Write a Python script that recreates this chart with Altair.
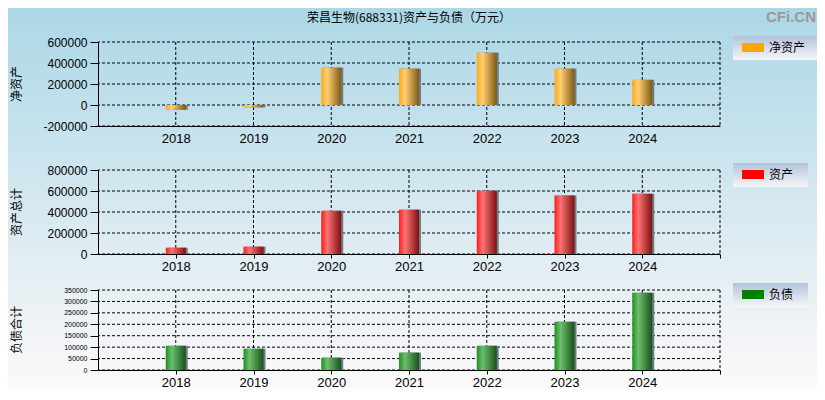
import altair as alt
import pandas as pd

# ---- data (万元) ----
years = [2018, 2019, 2020, 2021, 2022, 2023, 2024]
net_assets = [-45000, -22000, 356000, 346000, 498000, 346000, 240000]
total_assets = [60000, 70000, 413000, 422000, 603000, 556000, 575000]
total_liabilities = [106000, 93000, 54000, 76000, 106000, 211000, 338000]

grid_years = [2018, 2019, 2020, 2021, 2022, 2023, 2024, 2025]
x_domain = [2017, 2025]

ticks_net = [-200000, 0, 200000, 400000, 600000]
ticks_assets = [0, 200000, 400000, 600000, 800000]
ticks_liab = [0, 50000, 100000, 150000, 200000, 250000, 300000, 350000]

title_text = "荣昌生物(688331)资产与负债（万元）"

FONT = "Liberation Sans, Arial, sans-serif"
CJK = "Microsoft YaHei, Noto Sans CJK SC, sans-serif"

one = pd.DataFrame({"k": [0]})


def hgrad(c0, c1, c2):
    return alt.LinearGradient(
        gradient="linear", x1=0, x2=1, y1=0, y2=0,
        stops=[alt.GradientStop(color=c0, offset=0),
               alt.GradientStop(color=c1, offset=0.3),
               alt.GradientStop(color=c2, offset=1)])


def vgrad(c0, c1):
    return alt.LinearGradient(
        gradient="linear", x1=0, x2=0, y1=0, y2=1,
        stops=[alt.GradientStop(color=c0, offset=0),
               alt.GradientStop(color=c1, offset=1)])


def panel(values, ydomain, yticks, h, top, ytitle, legend_label, swatch,
          bar_fill, label_size, legend_y, legend_x2, xtick, extra_layers=()):
    df = pd.DataFrame({"year": years, "value": values})
    xs = alt.Scale(domain=x_domain, nice=False, zero=False, padding=0)
    ys = alt.Scale(domain=ydomain, range=[h, top], nice=False, zero=False, padding=0)

    x_axis = alt.Axis(values=grid_years, grid=False, title=None, zindex=1,
                      labelExpr="datum.value < 2025 ? '' + datum.value : ''",
                      labelFont=FONT, labelFontSize=13, labelColor="black",
                      tickSize=xtick, ticks=xtick > 0, tickColor="black",
                      domainColor="black",
                      labelPadding=6 - xtick, labelFlush=False, labelOverlap=False)
    y_axis = alt.Axis(values=yticks, grid=False, title=None, zindex=1,
                      labelExpr="'' + datum.value",
                      labelFont=FONT, labelFontSize=label_size, labelColor="black",
                      tickSize=8, tickColor="black", domainColor="black",
                      labelPadding=3, labelOverlap=False)

    hgrid = alt.Chart(pd.DataFrame({"gy": yticks})).mark_rule(
        color="black", strokeDash=[3, 2], strokeWidth=1
    ).encode(y=alt.Y("gy:Q", scale=ys, axis=y_axis))

    vgrid = alt.Chart(pd.DataFrame({"gx": grid_years})).mark_rule(
        color="black", strokeDash=[3, 2], strokeWidth=1
    ).encode(
        x=alt.X("gx:Q", scale=xs, axis=x_axis),
        y=alt.Y(datum=ydomain[1], scale=ys, axis=y_axis),
        y2=alt.Y2(datum=ydomain[0]),
    )

    shadow = alt.Chart(df).mark_bar(size=20, color="#6f7c88", xOffset=2).encode(
        x=alt.X("year:Q", scale=xs, axis=x_axis),
        y=alt.Y("value:Q", scale=ys, axis=y_axis),
        y2=alt.Y2(datum=0),
    )

    bars = alt.Chart(df).mark_bar(size=20, color=bar_fill).encode(
        x=alt.X("year:Q", scale=xs, axis=x_axis),
        y=alt.Y("value:Q", scale=ys, axis=y_axis),
        y2=alt.Y2(datum=0),
    )

    ytitle_mark = alt.Chart(one).mark_text(
        text=ytitle, angle=270, font=CJK, fontSize=12, color="black",
        align="center", baseline="middle"
    ).encode(x=alt.value(-81), y=alt.value((h + top) / 2))

    lbox = alt.Chart(one).mark_rect(fill=vgrad("#b3c2dc", "#f6f6fa")).encode(
        x=alt.value(635), x2=alt.value(legend_x2),
        y=alt.value(legend_y), y2=alt.value(legend_y + 24))
    lsw = alt.Chart(one).mark_rect(fill=swatch).encode(
        x=alt.value(644), x2=alt.value(666),
        y=alt.value(legend_y + 7), y2=alt.value(legend_y + 16))
    ltxt = alt.Chart(one).mark_text(
        text=legend_label, font=CJK, fontSize=12, color="black",
        align="left", baseline="middle"
    ).encode(x=alt.value(671), y=alt.value(legend_y + 12))

    layers = list(extra_layers) + [hgrid, vgrid, shadow, bars, ytitle_mark, lbox, lsw, ltxt]
    return alt.layer(*layers).properties(width=622, height=h)


# background for the whole chart + page title (placed in first panel, drawn first)
bg = alt.Chart(one).mark_rect(fill=vgrad("#acd7e6", "#fcf9f9")).encode(
    x=alt.value(-90), x2=alt.value(719), y=alt.value(-34), y2=alt.value(346))
title_mark = alt.Chart(one).mark_text(
    text=title_text, font=CJK, fontSize=12, color="black",
    align="center", baseline="middle"
).encode(x=alt.value(311), y=alt.value(-24))
wm = alt.Chart(one).mark_text(
    text="CFi.CN", font=FONT, fontSize=15, fontWeight="bold", color="#9a9a9a",
    align="right", baseline="middle"
).encode(x=alt.value(718), y=alt.value(-25))

p1 = panel(net_assets, [-200000, 600000], ticks_net, 84, 0, "净资产", "净资产",
           "#ffa500", hgrad("#ffa818", "#ffcf73", "#7d5a14"), 12, -6, 719, 0,
           extra_layers=(bg, title_mark, wm))
p2 = panel(total_assets, [0, 800000], ticks_assets, 128, 44, "资产总计", "资产",
           "#ff0000", hgrad("#ff1a1a", "#ff7373", "#7d1010"), 12, 37, 710, 4)
p3 = panel(total_liabilities, [0, 350000], ticks_liab, 116, 36, "负债合计", "负债",
           "#008000", hgrad("#1f8f1f", "#6cbf6c", "#18521a"), 7, 29, 710, 4)

chart = alt.vconcat(p1, p2, p3, spacing=0, bounds="flush").properties(
    padding=0
).configure_view(stroke=None)

chart.save("out.html", embed_options={"renderer": "svg", "actions": False})
